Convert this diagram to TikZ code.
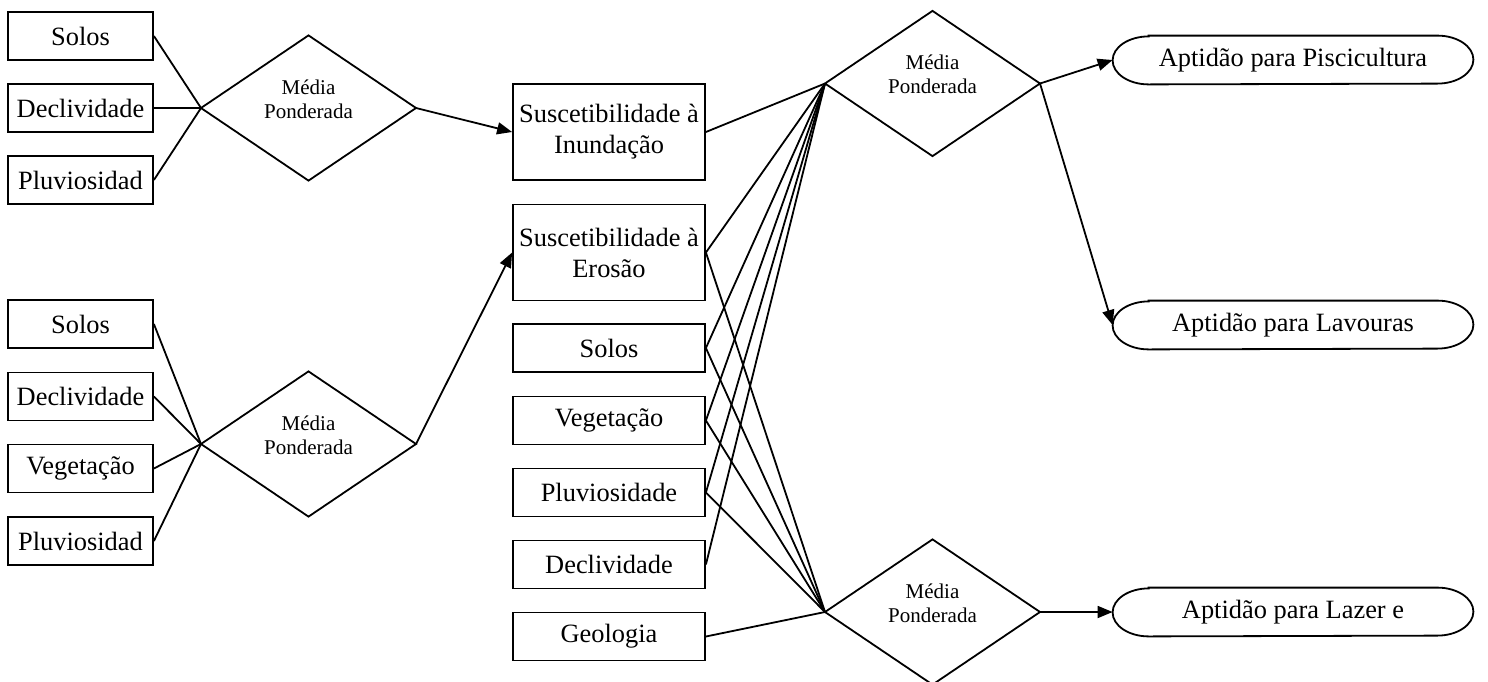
\documentclass[tikz,border=0pt]{standalone}
\usepackage{fontspec}
\setmainfont{Liberation Serif}
\usepackage{tikz}
\usetikzlibrary{arrows.meta,shapes.geometric}

\newcommand{\fonte}{\fontsize{13.2}{15.5}\selectfont}
\newcommand{\fontemedia}{\fontsize{10.5}{12}\selectfont}

\begin{document}
\begin{tikzpicture}[x=0.5pt,y=-0.5pt,
  caixa/.style={draw, rectangle, line width=0.9pt, minimum width=72.5pt, minimum height=24pt, inner sep=1pt, font=\fonte},
  caixalarga/.style={caixa, minimum width=96pt},
  caixaalta/.style={caixalarga, minimum height=48pt, align=center},
  losango/.style={draw, diamond, line width=0.9pt, minimum width=107.5pt, minimum height=72pt, inner sep=0pt, outer sep=0pt, align=center, text depth=9pt, font=\fontemedia},
  oval/.style={rectangle, minimum width=180pt, minimum height=24pt, inner sep=0pt, font=\fonte},
  seta/.style={-{Triangle[length=7.5pt,width=6pt]}, line width=0.9pt},
  linha/.style={line width=0.9pt}]
  \useasboundingbox (0,0) rectangle (1488,681); %Page size

  \node[caixa] (solos1) at (80.5,36) {Solos}; %First group
  \node[caixa] (decl1) at (80.5,108) {Declividade};
  \node[caixa] (pluv1) at (80.5,180) {Pluviosidad};
  \node[losango] (media1) at (308.5,108) {Média\\Ponderada};

  \node[caixa] (solos2) at (80.5,324) {Solos}; %Second group
  \node[caixa] (decl2) at (80.5,396.5) {Declividade};
  \node[caixa] (veg2) at (80.5,468.5) {Vegetação};
  \node[caixa] (pluv2) at (80.5,541) {Pluviosidad};
  \node[losango] (media2) at (308.5,444) {Média\\Ponderada};

  \node[caixaalta] (inund) at (609,132) {Suscetibilidade à\\Inundação}; %Middle column
  \node[caixaalta] (erosao) at (609,252.5) {Suscetibilidade à\\Erosão};
  \node[caixalarga] (solos3) at (609,348) {Solos};
  \node[caixalarga] (veg3) at (609,420.5) {Vegetação};
  \node[caixalarga] (pluv3) at (609,492.5) {Pluviosidade};
  \node[caixalarga] (decl3) at (609,564.5) {Declividade};
  \node[caixalarga] (geol3) at (609,636.5) {Geologia};

  \node[losango] (media3) at (932.5,83.5) {Média\\Ponderada}; %Right diamonds
  \node[losango] (media4) at (932.5,612) {Média\\Ponderada};

  \node[oval] (pisc) at (1293,60) {Aptidão para Piscicultura}; %Results
  \node[oval] (lavo) at (1293,325) {Aptidão para Lavouras};
  \node[oval] (lazer) at (1293,612) {Aptidão para Lazer e};
  \foreach \e in {pisc,lavo,lazer}
    \draw[linha] ([xshift=18pt]\e.north west) -- ([xshift=-18pt]\e.north east)
      arc[start angle=90,end angle=-90,x radius=18pt,y radius=12pt]
      -- ([xshift=18pt]\e.south west)
      arc[start angle=270,end angle=90,x radius=18pt,y radius=12pt] -- cycle; %Draw oval

  \draw[linha] (solos1.east) -- (media1.west); %First fan
  \draw[linha] (decl1.east) -- (media1.west);
  \draw[linha] (pluv1.east) -- (media1.west);

  \draw[linha] (solos2.east) -- (media2.west); %Second fan
  \draw[linha] (decl2.east) -- (media2.west);
  \draw[linha] (veg2.east) -- (media2.west);
  \draw[linha] (pluv2.east) -- (media2.west);

  \draw[seta] (media1.east) -- (inund.west); %Arrow to flood
  \draw[seta] (media2.east) -- (erosao.west); %Arrow to erosion

  \draw[linha] (inund.east) -- (media3.west); %Upper fan
  \draw[linha] (erosao.east) -- (media3.west);
  \draw[linha] (solos3.east) -- (media3.west);
  \draw[linha] (veg3.east) -- (media3.west);
  \draw[linha] (pluv3.east) -- (media3.west);
  \draw[linha] (decl3.east) -- (media3.west);

  \draw[linha] (erosao.east) -- (media4.west); %Lower fan
  \draw[linha] (solos3.east) -- (media4.west);
  \draw[linha] (veg3.east) -- (media4.west);
  \draw[linha] (pluv3.east) -- (media4.west);
  \draw[linha] (geol3.east) -- (media4.west);

  \draw[seta] (media3.east) -- (pisc.west); %Arrow to fish farming
  \draw[seta] (media3.east) -- (lavo.west); %Arrow to crops
  \draw[seta] (media4.east) -- (lazer.west); %Arrow to leisure
\end{tikzpicture}
\end{document}
